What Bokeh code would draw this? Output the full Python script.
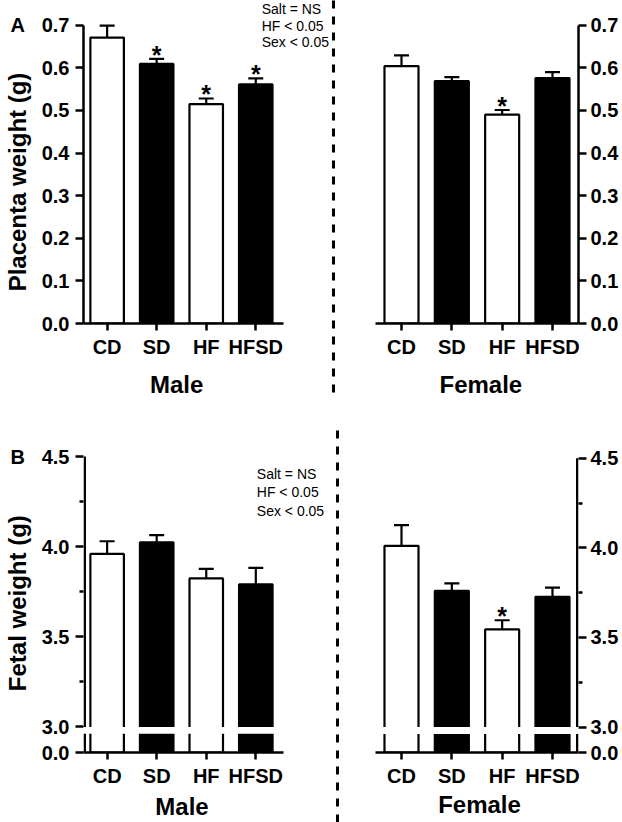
from bokeh.plotting import figure
from bokeh.layouts import row, column
from bokeh.models import (Range1d, FixedTicker, Whisker, TeeHead, LinearAxis,
                          ColumnDataSource, NumeralTickFormatter)
from bokeh.embed import file_html
from bokeh.resources import INLINE
from bokeh.core.properties import value

# ---------------- data ----------------
groups = ["CD", "SD", "HF", "HFSD"]
placenta_male = [0.671, 0.609, 0.515, 0.561]
placenta_male_sem = [0.028, 0.012, 0.013, 0.014]
placenta_female = [0.604, 0.569, 0.490, 0.576]
placenta_female_sem = [0.025, 0.009, 0.011, 0.014]
fetal_male = [3.960, 4.024, 3.824, 3.791]
fetal_male_sem = [0.070, 0.040, 0.053, 0.091]
fetal_female = [4.011, 3.760, 3.545, 3.727]
fetal_female_sem = [0.116, 0.042, 0.051, 0.051]
placenta_male_sig = [False, True, True, True]
placenta_female_sig = [False, False, True, False]
fetal_male_sig = [False, False, False, False]
fetal_female_sig = [False, False, True, False]
stats_lines = ["Salt = NS", "HF < 0.05", "Sex < 0.05"]
placenta_ticks = [0.0, 0.1, 0.2, 0.3, 0.4, 0.5, 0.6, 0.7]
fetal_ticks = [3.0, 3.5, 4.0, 4.5]
fetal_minor_ticks = [3.25, 3.75, 4.25]
fetal_zero_label = "0.0"

# ---------------- styles / layout constants ----------------
FONT = "Liberation Sans"
NB = "\u00a0"
fills = ["white", "black", "white", "black"]
xs = list(range(len(groups)))
STEP = 50.33          # px per category
BAR_W = 0.676
LW = 2.2
AXW = 2.5
KA = 302 / 0.7        # px per g, placenta
KB = 275 / 1.5        # px per g, fetal (upper segment)
# broken fetal axis: floor (drawn as 0.0) sits 26 px below 3.0, gap of 7 px
Y_FLOOR = round(3.0 - 26 / KB, 4)
GAP_LO = 3.0 - 7 / KB


def xr(left_px, right_px, c0):
    return Range1d((left_px - c0) / STEP, (right_px - c0) / STEP)


def make_fig(width, height, x_range, y_range, left, right, top, bottom,
             x_loc="below", y_loc="left"):
    p = figure(width=width, height=height, x_range=x_range, y_range=y_range,
               output_backend="svg", toolbar_location=None,
               x_axis_location=x_loc, y_axis_location=y_loc,
               min_border_left=left, min_border_right=right,
               min_border_top=top, min_border_bottom=bottom)
    p.grid.visible = False
    p.outline_line_color = None
    p.border_fill_color = "white"
    p.background_fill_color = "white"
    return p


def style_axis(ax):
    ax.axis_line_width = AXW
    ax.axis_line_color = "black"
    ax.major_tick_line_width = AXW
    ax.major_tick_line_color = "black"
    ax.major_tick_in = 0
    ax.minor_tick_in = 0
    ax.minor_tick_out = 4
    ax.minor_tick_line_width = AXW
    ax.minor_tick_line_color = "black"
    ax.major_label_text_font = FONT
    ax.major_label_text_font_style = "bold"
    ax.major_label_text_font_size = "20px"
    ax.major_label_text_color = "black"
    ax.axis_label_text_font = FONT
    ax.axis_label_text_font_style = "bold"
    ax.axis_label_text_color = "black"
    ax.axis_label_text_font_size = "24px"


def style_x(p, bounds, label, label_standoff):
    ax = p.xaxis[0]
    style_axis(ax)
    ax.ticker = FixedTicker(ticks=xs)
    ax.major_label_overrides = {i: g for i, g in zip(xs, groups)}
    ax.bounds = bounds
    ax.major_tick_out = 7
    ax.major_label_standoff = 5
    ax.axis_label = label
    ax.axis_label_standoff = label_standoff


def add_separator(p, xpos, length, dash):
    # dashed vertical separator: one long tick of a label-less axis on top
    ax = LinearAxis(ticker=FixedTicker(ticks=[xpos]), axis_line_color=None,
                    major_tick_in=length, major_tick_out=0,
                    major_tick_line_width=3, major_tick_line_color="black",
                    major_tick_line_dash=dash, major_tick_line_cap="butt",
                    minor_tick_in=0, minor_tick_out=0,
                    major_label_text_font_size="0px", major_label_standoff=0,
                    bounds=(p.x_range.start, p.x_range.end))
    p.add_layout(ax, "above")


def style_y(p, ticks, minor, bounds, standoff=6, overrides=None, rule=True,
            label=None):
    ax = p.yaxis[0]
    style_axis(ax)
    ax.ticker = FixedTicker(ticks=ticks, minor_ticks=minor)
    ax.formatter = NumeralTickFormatter(format="0.0")
    if overrides:
        ax.major_label_overrides = overrides
    ax.bounds = bounds
    ax.major_tick_out = 8
    ax.major_label_standoff = standoff
    if not rule:
        ax.axis_line_color = None
    if label:
        ax.axis_label = label
        ax.axis_label_standoff = -23


def draw_bars(p, vals, sems, sig, floor=0.0):
    p.vbar(x=xs, top=vals, bottom=floor, width=BAR_W, fill_color=fills,
           line_color="black", line_width=LW)
    src = ColumnDataSource(dict(x=xs, lower=vals,
                                upper=[v + s for v, s in zip(vals, sems)]))
    w = Whisker(source=src, base="x", lower="lower", upper="upper",
                dimension="height", line_width=LW, line_color="black",
                upper_head=TeeHead(size=15, line_width=LW, line_color="black"),
                lower_head=None)
    p.add_layout(w)
    sx = [x for x, s in zip(xs, sig) if s]
    sy = [v + e for v, e, s in zip(vals, sems, sig) if s]
    if sx:
        p.text(x=sx, y=sy, text=["*"] * len(sx), text_font=value(FONT),
               text_font_size="25px", text_font_style="bold",
               text_align="center", text_baseline="alphabetic",
               y_offset=-4, text_color="black")


def broken_axis(p, side):
    # white gap through the bars and the two pieces of the y axis rule
    xrng = p.x_range
    p.quad(left=[xrng.start], right=[xrng.end], bottom=[GAP_LO], top=[3.0],
           fill_color="white", line_color=None)
    if side == "left":
        xa = xrng.start + (AXW / 2) / STEP
    else:
        xa = xrng.end - (AXW / 2) / STEP
    p.segment(x0=[xa, xa], y0=[3.0, Y_FLOOR], x1=[xa, xa], y1=[4.5, GAP_LO],
              line_color="black", line_width=AXW, line_cap="butt")


def stats_text(p, x, ys):
    p.text(x=[x] * len(stats_lines), y=ys, text=stats_lines,
           text_font=value(FONT), text_font_size="14px",
           text_align="left", text_baseline="middle", text_color="black")


# ---------------- Panel A (rows 0..400) ----------------
def ya(py):
    return (327 - py) / KA


pAm = make_fig(336, 400, xr(79, 336, 103), Range1d(0, ya(0)), 79, 0, 0, 73)
draw_bars(pAm, placenta_male, placenta_male_sem, placenta_male_sig)
style_x(pAm, ((79 - 103) / STEP, (282 - 103) / STEP), "Male" + NB * 10, 10)
style_y(pAm, placenta_ticks, [], (0, 0.7),
        overrides={0.7: "A" + NB * 3 + "0.7"},
        label="Placenta weight (g)" + NB * 6)
stats_text(pAm, (260 - 103) / STEP, [ya(9), ya(25.5), ya(42)])
add_separator(pAm, (333 - 103) / STEP, 400, "8 8")

pAf = make_fig(286, 400, xr(336, 578, 401), Range1d(0, ya(0)), 0, 44, 0, 73,
               y_loc="right")
draw_bars(pAf, placenta_female, placenta_female_sem, placenta_female_sig)
style_x(pAf, ((375 - 401) / STEP, (578 - 401) / STEP), NB * 7 + "Female", 10)
style_y(pAf, placenta_ticks, [], (0, 0.7), standoff=4)

# ---------------- Panel B (rows 400..822) ----------------
fetal_all_ticks = [Y_FLOOR] + fetal_ticks


def ybm(py):
    return 3.0 + (732 - py) / KB


def ybf(py):
    return 3.0 + (734 - py) / KB


pBm = make_fig(340, 422, xr(79, 340, 103), Range1d(Y_FLOOR, ybm(400)),
               79, 0, 0, 64)
draw_bars(pBm, fetal_male, fetal_male_sem, fetal_male_sig, floor=Y_FLOOR)
broken_axis(pBm, "left")
style_x(pBm, ((79 - 103) / STEP, (282 - 103) / STEP), "Male" + NB * 9, 3)
style_y(pBm, fetal_all_ticks, fetal_minor_ticks, (Y_FLOOR, 4.5),
        overrides={Y_FLOOR: fetal_zero_label, 4.5: "B" + NB * 3 + "4.5"},
        rule=False, label="Fetal weight (g)" + NB * 8)
stats_text(pBm, (255 - 103) / STEP, [ybm(475), ybm(493), ybm(512)])
add_separator(pBm, (337 - 103) / STEP, 422, "0 30" + " 8 8" * 25)

pBf = make_fig(282, 422, xr(340, 578, 401), Range1d(Y_FLOOR, ybf(400)),
               0, 44, 0, 62, y_loc="right")
draw_bars(pBf, fetal_female, fetal_female_sem, fetal_female_sig, floor=Y_FLOOR)
broken_axis(pBf, "right")
style_x(pBf, ((375 - 401) / STEP, (578 - 401) / STEP), NB * 6 + "Female", 1)
style_y(pBf, fetal_all_ticks, fetal_minor_ticks, (Y_FLOOR, 4.5), standoff=4,
        overrides={Y_FLOOR: fetal_zero_label}, rule=False)

layout = column(
    row(pAm, pAf),
    row(pBm, pBf),
)

open("out.html", "w").write(file_html(layout, INLINE))
